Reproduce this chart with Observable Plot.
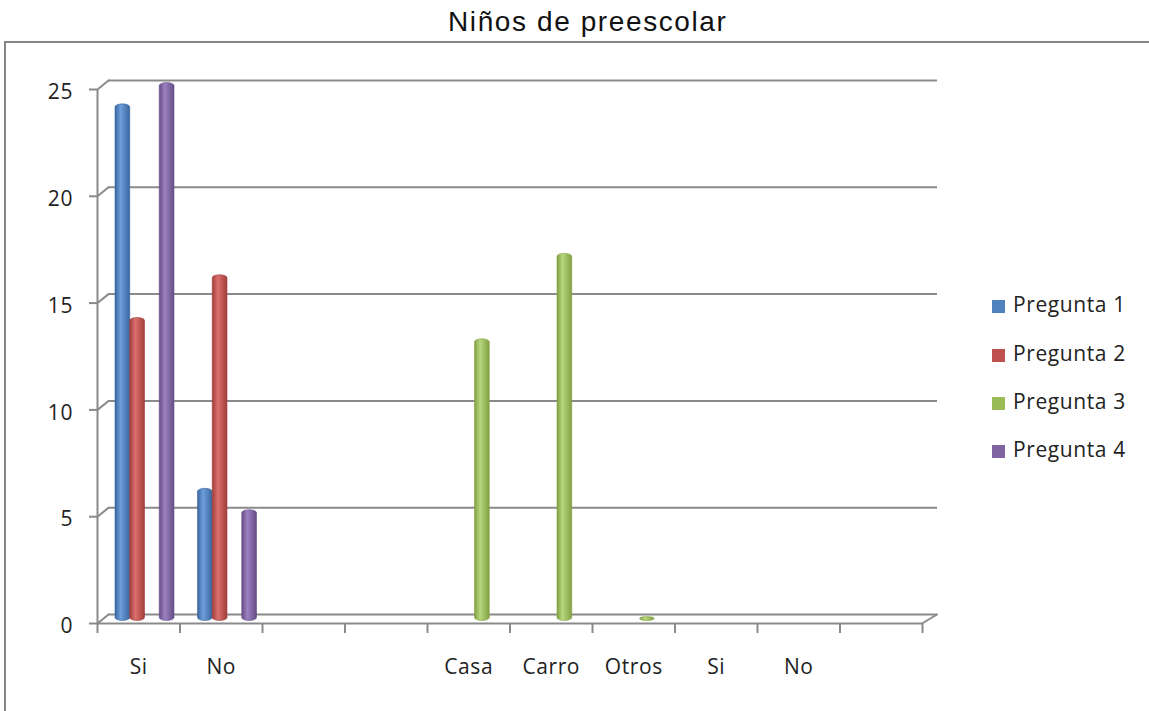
<!DOCTYPE html>
<html>
<head>
<meta charset="utf-8">
<script src="https://cdn.jsdelivr.net/npm/d3@7"></script>
<script src="https://cdn.jsdelivr.net/npm/@observablehq/plot@0.6"></script>
<style>
  html, body { margin: 0; padding: 0; background: #fff; overflow: hidden; }
  #page { position: relative; width: 1149px; height: 711px; overflow: hidden; }
  #title { position: absolute; left: 448px; top: 8px; font-family: "Liberation Sans", Arial, sans-serif; font-size: 28px; line-height: 28px; letter-spacing: 1.6px; color: #111; white-space: nowrap; }
  #frame { position: absolute; left: 4px; top: 41px; width: 2000px; height: 2000px; border-top: 2px solid #858585; border-left: 2px solid #858585; }
  #chart { position: absolute; left: 0; top: 44px; }
  .lg-sw { position: absolute; width: 13px; height: 13px; }
  .lg-tx { position: absolute; font-family: "Open Sans", sans-serif; font-size: 21px; line-height: 21px; letter-spacing: 0.6px; color: #222; white-space: nowrap; }
</style>
</head>
<body>
<div id="page">
  <div id="title">Niños de preescolar</div>
  <div id="frame"></div>
  <div id="chart"></div>
  <div id="legend"></div>
</div>
<script>
// ---- data ----
const categories = ["Si", "No", "", "", "Casa", "Carro", "Otros", "Si", "No", ""];
const seriesNames = ["Pregunta 1", "Pregunta 2", "Pregunta 3", "Pregunta 4"];
const pregunta1 = [24, 6, null, null, null, null, null, null, null, null];
const pregunta2 = [14, 16, null, null, null, null, null, null, null, null];
const pregunta3 = [null, null, null, null, 13, 17, 0, null, null, null];
const pregunta4 = [25, 5, null, null, null, null, null, null, null, null];
const yTicks = [0, 5, 10, 15, 20, 25];

const seriesValues = [pregunta1, pregunta2, pregunta3, pregunta4];
const flatColors = ["#4f81bd", "#c0504d", "#9bbb59", "#8064a2"];
const gradColors = [
  ["#3a669f", "#6d9edb"],
  ["#a13e3b", "#db706d"],
  ["#82a142", "#b8d67e"],
  ["#654d86", "#9c81c2"]
];

const rows = [];
seriesValues.forEach((vals, s) => vals.forEach((v, i) => {
  if (v !== null) rows.push({series: seriesNames[s], s, slot: i, value: v});
}));

const gridColor = "#8a8a8a";
const slotW = 82.5, barW = 14.75, lead = 12.5;
const lineShape = { draw(ctx, l) { ctx.moveTo(0, 0); ctx.lineTo(0, -l); } };

const defsMark = () => {
  const defs = d3.create("svg:defs");
  gradColors.forEach(([dark, light], i) => {
    const g = defs.append("linearGradient").attr("id", "g" + i)
      .attr("x1", 0).attr("x2", 1).attr("y1", 0).attr("y2", 0);
    g.append("stop").attr("offset", "0%").attr("stop-color", dark);
    g.append("stop").attr("offset", "38%").attr("stop-color", light);
    g.append("stop").attr("offset", "100%").attr("stop-color", dark);
  });
  return defs.node();
};

const barMarks = seriesNames.map((name, i) => Plot.rect(rows.filter(d => d.s === i), {
  x1: "slot",
  x2: d => d.slot + 1,
  y1: 0,
  y2: "value",
  insetLeft: lead + barW * i,
  insetRight: slotW - lead - barW * (i + 1),
  insetTop: -2,
  insetBottom: -2,
  rx: 7.4,
  ry: 3,
  fill: `url(#g${i})`,
  stroke: gradColors[i][0],
  strokeWidth: 0.6
}));

const chart = Plot.plot({
  width: 1149,
  height: 667,
  marginLeft: 102.5,
  marginRight: 221.5,
  marginTop: 40.5,
  marginBottom: 92.5,
  style: {fontFamily: "Open Sans, sans-serif", letterSpacing: "0.6px", background: "transparent"},
  x: {type: "linear", domain: [0, 10], label: null},
  y: {domain: [0, 25], label: null},
  marks: [
    defsMark,
    // back wall gridlines
    Plot.ruleY(yTicks, {x1: 0, x2: 10, dx: 5.5, dy: -4.5, insetRight: -4, stroke: gridColor, strokeWidth: 2}),
    // depth connectors on the left
    Plot.vector(yTicks, {x: 0, y: d => d, length: 14.2, rotate: 50.7, anchor: "middle", shape: lineShape, stroke: gridColor, strokeWidth: 2}),
    // floor right connector
    Plot.vector([0], {x: 10, y: d => d, length: 17.5, rotate: 59, anchor: "middle", dx: 1.5, shape: lineShape, stroke: gridColor, strokeWidth: 2}),
    // floor front edge
    Plot.ruleY([0], {x1: 0, x2: 10, dx: -5.5, dy: 4.5, stroke: gridColor, strokeWidth: 2}),
    // front vertical axis line
    Plot.ruleX([0], {y1: 0, y2: 25, dx: -5.5, dy: 4.5, stroke: gridColor, strokeWidth: 2}),
    // y ticks
    Plot.axisY({ticks: yTicks, tickSize: 8, tickFormat: () => "", dx: -5.5, dy: 4.5, stroke: gridColor, strokeWidth: 2}),
    // y labels
    Plot.axisY({ticks: yTicks, tickSize: 0, tickPadding: 30, dx: 0, dy: 7.5, fontSize: 21, fill: "#222"}),
    // x ticks
    Plot.axisX({ticks: d3.range(11), tickSize: 10, tickFormat: () => "", dx: -5.5, dy: 4.5, stroke: gridColor, strokeWidth: 2}),
    // x labels
    Plot.axisX({ticks: d3.range(10).map(i => i + 0.5), tickSize: 0, tickPadding: 0, tickFormat: v => categories[Math.floor(v)], dx: -5.5, dy: 40.5, fontSize: 21, fill: "#222"}),
    ...barMarks
  ]
});
document.getElementById("chart").appendChild(chart);

// legend
const legend = document.getElementById("legend");
const legendTop = [306.5, 355, 403, 451.5];
seriesNames.forEach((name, i) => {
  const sw = document.createElement("div");
  sw.className = "lg-sw";
  sw.style.left = "992px";
  sw.style.top = (legendTop[i] - 6.5) + "px";
  sw.style.background = flatColors[i];
  legend.appendChild(sw);
  const tx = document.createElement("div");
  tx.className = "lg-tx";
  tx.style.left = "1013px";
  tx.style.top = (legendTop[i] + 6.5 - 0.888 * 21) + "px";
  tx.textContent = name;
  legend.appendChild(tx);
});
</script>
</body>
</html>
